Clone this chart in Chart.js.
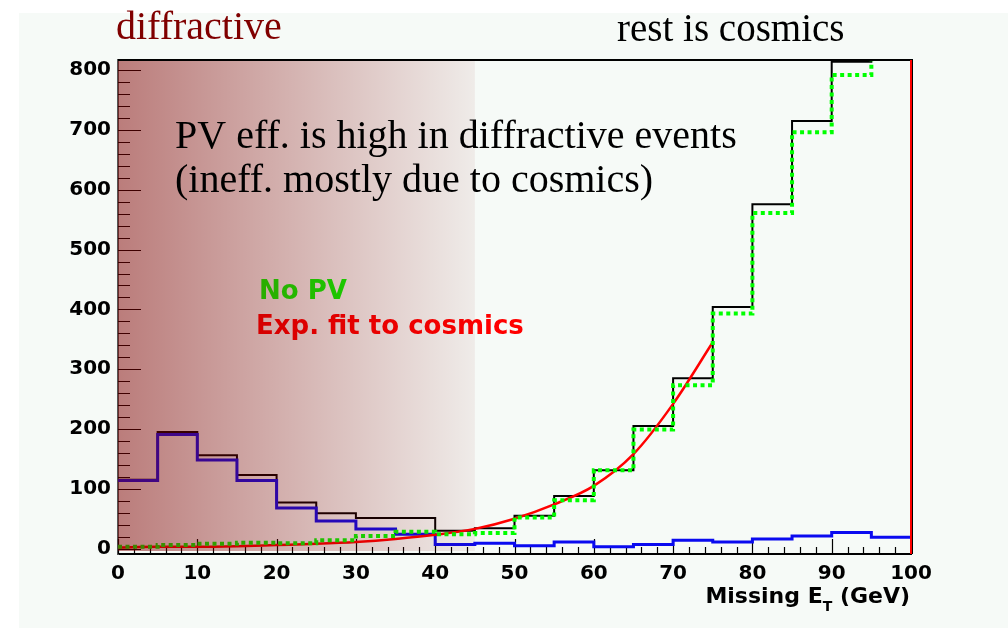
<!DOCTYPE html>
<html>
<head>
<meta charset="utf-8">
<script src="https://cdn.jsdelivr.net/npm/chart.js@4.4.1/dist/chart.umd.min.js"></script>
<style>
    html, body { margin: 0; padding: 0; background: #ffffff; }
    canvas { display: block; }
</style>
</head>
<body>
<canvas id="metChart" width="1008" height="628"></canvas>
<script>
// Missing ET histograms, 5 GeV bins
const binEdges = [0, 5, 10, 15, 20, 25, 30, 35, 40, 45, 50, 55, 60, 65, 70, 75, 80, 85, 90, 95, 100];
const allEvents = [115, 195, 156, 123, 77, 59, 51, 51, 30, 34, 55, 88, 131, 205, 285, 404, 576, 715, 814, 817];
const withPV = [114, 191, 148, 114, 68, 46, 33, 24, 7, 9, 5, 11, 3, 7, 14, 11, 16, 21, 27, 19];
const noPV = [3, 6, 8, 10, 9, 14, 21, 28, 24, 26, 52, 81, 131, 199, 273, 393, 561, 696, 792, 822];

// exponential fit to cosmics
const fitX = [0, 5, 10, 15, 20, 25, 30, 35, 40, 45, 50, 55, 60, 65, 70, 75];
const fitY = [2, 3, 3, 4, 6, 8, 11, 16, 23, 33, 50, 74, 105, 158, 242, 345];

const xTickValues = [0, 10, 20, 30, 40, 50, 60, 70, 80, 90, 100];
const yTickValues = [0, 100, 200, 300, 400, 500, 600, 700, 800];
const xMinorStep = 2;
const yMinorStep = 20;
const diffractiveEdge = 45;

function histPoints(values) {
    const pts = values.map((v, i) => ({ x: binEdges[i], y: v }));
    pts.push({ x: binEdges[values.length], y: values[values.length - 1] });
    return pts;
}

const tickFont = { family: "DejaVu Sans", weight: "bold", size: 20 };

const rootFrame = {
    id: "rootFrame",
    beforeDraw(chart) {
        const ctx = chart.ctx;
        ctx.save();
        ctx.fillStyle = "#ffffff";
        ctx.fillRect(0, 0, chart.width, chart.height);
        ctx.fillStyle = "#f6faf7";
        ctx.fillRect(19, 13, chart.width - 19, chart.height - 13);
        ctx.restore();
    },
    beforeDatasetsDraw(chart) {
        // tick marks drawn inside the frame, ROOT style
        const ctx = chart.ctx;
        const area = chart.chartArea;
        const xs = chart.scales.x;
        const ys = chart.scales.y;
        ctx.save();
        ctx.strokeStyle = "#000000";
        ctx.lineWidth = 1.2;
        ctx.beginPath();
        for (let v = 0; v <= 100; v += xMinorStep) {
            const px = Math.round(xs.getPixelForValue(v)) + 0.5;
            const len = v % 10 === 0 ? 15 : 7;
            ctx.moveTo(px, area.bottom);
            ctx.lineTo(px, area.bottom - len);
        }
        for (let v = 0; v <= 800; v += yMinorStep) {
            const py = Math.round(ys.getPixelForValue(v)) + 0.5;
            const len = v % 100 === 0 ? 23 : 12;
            ctx.moveTo(area.left, py);
            ctx.lineTo(area.left + len, py);
        }
        ctx.stroke();
        ctx.restore();
    },
    afterDatasetsDraw(chart) {
        const ctx = chart.ctx;
        const area = chart.chartArea;
        const xs = chart.scales.x;
        ctx.save();

        // legend texts
        ctx.font = "bold 26px 'DejaVu Sans'";
        ctx.textBaseline = "alphabetic";
        ctx.textAlign = "left";
        ctx.fillStyle = "#00ff00";
        ctx.fillText("No PV", 259, 299);
        ctx.fillStyle = "#ff0000";
        ctx.fillText("Exp. fit to cosmics", 256, 334);

        // diffractive region overlay
        const edge = xs.getPixelForValue(diffractiveEdge);
        const grad = ctx.createLinearGradient(area.left, 0, edge, 0);
        grad.addColorStop(0, "rgba(128,0,0,0.5)");
        grad.addColorStop(1, "rgba(128,0,0,0.06)");
        ctx.fillStyle = grad;
        ctx.fillRect(area.left, area.top, edge - area.left, area.bottom - area.top - 3);

        // frame top and right
        ctx.strokeStyle = "#000000";
        ctx.lineWidth = 2;
        ctx.beginPath();
        ctx.moveTo(area.left, area.top);
        ctx.lineTo(area.right + 2, area.top);
        ctx.stroke();
        ctx.lineWidth = 1;
        ctx.beginPath();
        ctx.moveTo(area.right + 1.5, area.top);
        ctx.lineTo(area.right + 1.5, area.bottom);
        ctx.stroke();
        ctx.strokeStyle = "#ff0000";
        ctx.lineWidth = 2;
        ctx.beginPath();
        ctx.moveTo(area.right, area.top);
        ctx.lineTo(area.right, area.bottom);
        ctx.stroke();

        // slide annotations
        ctx.font = "40px 'Liberation Serif'";
        ctx.fillStyle = "#800000";
        ctx.fillText("diffractive", 116, 39);
        ctx.fillStyle = "#000000";
        ctx.font = "39px 'Liberation Serif'";
        ctx.fillText("rest is cosmics", 617, 41);
        ctx.font = "40px 'Liberation Serif'";
        ctx.fillText("PV eff. is high in diffractive events", 175, 148);
        ctx.fillText("(ineff. mostly due to cosmics)", 175, 192);

        // x axis title with subscript
        const right = area.right - 1;
        const base = 603;
        ctx.font = "bold 22px 'DejaVu Sans'";
        const w1 = ctx.measureText("Missing E").width;
        const w3 = ctx.measureText(" (GeV)").width;
        ctx.font = "bold 14px 'DejaVu Sans'";
        const w2 = ctx.measureText("T").width;
        let x0 = right - w1 - w2 - w3;
        ctx.font = "bold 22px 'DejaVu Sans'";
        ctx.fillText("Missing E", x0, base);
        ctx.font = "bold 14px 'DejaVu Sans'";
        ctx.fillText("T", x0 + w1, base + 8);
        ctx.font = "bold 22px 'DejaVu Sans'";
        ctx.fillText(" (GeV)", x0 + w1 + w2, base);

        ctx.restore();
    },
};

new Chart(document.getElementById("metChart"), {
    type: "line",
    data: {
        datasets: [
            {
                label: "No PV",
                data: histPoints(noPV),
                stepped: "before",
                borderColor: "#00ff00",
                borderWidth: 4,
                borderDash: [4, 3.5],
                pointRadius: 0,
                fill: false,
                clip: 0,
                order: 1,
            },
            {
                label: "Exp. fit to cosmics",
                data: fitX.map((x, i) => ({ x: x, y: fitY[i] })),
                borderColor: "#ff0000",
                borderWidth: 2.5,
                cubicInterpolationMode: "monotone",
                pointRadius: 0,
                fill: false,
                clip: 0,
                order: 2,
            },
            {
                label: "PV",
                data: histPoints(withPV),
                stepped: "before",
                borderColor: "#0a0af0",
                borderWidth: 3,
                pointRadius: 0,
                fill: false,
                clip: 0,
                order: 3,
            },
            {
                label: "All",
                data: histPoints(allEvents),
                stepped: "before",
                borderColor: "#000000",
                borderWidth: 2,
                pointRadius: 0,
                fill: false,
                clip: 0,
                order: 4,
            },
        ],
    },
    options: {
        responsive: false,
        animation: false,
        devicePixelRatio: 1,
        layout: {
            padding: { left: 0, top: 60, right: 97, bottom: 0 },
        },
        scales: {
            x: {
                type: "linear",
                min: 0,
                max: 100,
                afterBuildTicks: (scale) => {
                    scale.ticks = xTickValues.map((v) => ({ value: v }));
                },
                afterFit: (scale) => {
                    scale.height = 74;
                },
                grid: { display: false, drawTicks: false },
                border: { display: true, color: "#000000", width: 2 },
                ticks: {
                    font: tickFont,
                    color: "#000000",
                    padding: 8,
                    maxRotation: 0,
                    autoSkip: false,
                },
            },
            y: {
                type: "linear",
                min: -9,
                max: 817,
                afterBuildTicks: (scale) => {
                    scale.ticks = yTickValues.map((v) => ({ value: v }));
                },
                afterFit: (scale) => {
                    scale.width = 118;
                },
                grid: { display: false, drawTicks: false },
                border: { display: true, color: "#555555", width: 2 },
                ticks: {
                    font: tickFont,
                    color: "#000000",
                    padding: 7,
                    autoSkip: false,
                },
            },
        },
        plugins: {
            legend: { display: false },
            tooltip: { enabled: false },
        },
    },
    plugins: [rootFrame],
});
</script>
</body>
</html>
